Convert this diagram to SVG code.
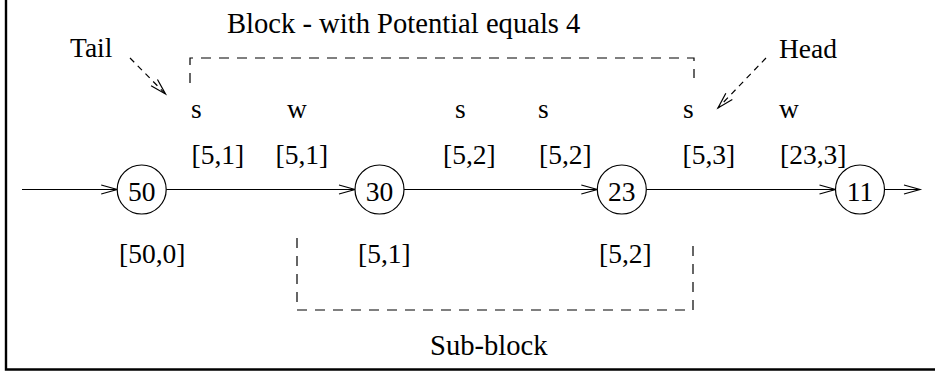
<svg xmlns="http://www.w3.org/2000/svg" width="935" height="373" viewBox="0 0 935 373">
<style>
text{font-family:"Liberation Serif","Times New Roman",serif;font-size:27.5px;fill:#000}
.big{font-size:28.6px}
.num{text-anchor:middle}
.node circle{fill:#fff;stroke:#000;stroke-width:1.2}
.edge{stroke:#000;stroke-width:1.2;fill:none}
.box{stroke:#000;stroke-width:1.2;fill:none;stroke-dasharray:10 8}
.ptr{stroke:#000;stroke-width:1.2;fill:none;stroke-dasharray:6 5}
.frame{stroke:#000;stroke-width:2.4;fill:none}
</style>
<defs>
<marker id="arr" markerWidth="20" markerHeight="12" refX="16" refY="6" orient="auto" markerUnits="userSpaceOnUse" overflow="visible">
<path d="M0,1.5 L16,6 L0,10.5" fill="none" stroke="#000" stroke-width="1.2"/>
</marker>
</defs>
<rect width="935" height="373" fill="#fff"/>
<path class="frame" d="M6,0 V369.5 H935"/>

<g id="connectors">
<line class="edge" x1="22" y1="189.5" x2="117.2" y2="189.5" marker-end="url(#arr)"/>
<line class="edge" x1="166.2" y1="189.5" x2="355" y2="189.5" marker-end="url(#arr)"/>
<line class="edge" x1="404" y1="189.5" x2="597.3" y2="189.5" marker-end="url(#arr)"/>
<line class="edge" x1="646.3" y1="189.5" x2="835.5" y2="189.5" marker-end="url(#arr)"/>
<line class="edge" x1="884.5" y1="189.5" x2="920" y2="189.5" marker-end="url(#arr)"/>
<line class="ptr" x1="130" y1="58" x2="165.5" y2="94" marker-end="url(#arr)"/>
<line class="ptr" x1="766" y1="58" x2="718" y2="108" marker-end="url(#arr)"/>
</g>

<g id="block">
<path class="box" d="M190,83 V58 H694 V78"/>
<text class="big" x="227" y="33">Block - with Potential equals 4</text>
</g>
<g id="subblock">
<path class="box" d="M297,238 V310 H693 V238"/>
<text class="big" x="430" y="355">Sub-block</text>
</g>
<g id="tail"><text x="70" y="57">Tail</text></g>
<g id="head"><text x="779" y="58">Head</text></g>

<g id="node50" class="node">
<circle cx="141.7" cy="189.5" r="24.5"/>
<text class="num" x="141.7" y="201">50</text>
</g>
<g id="node30" class="node">
<circle cx="379.5" cy="189.5" r="24.5"/>
<text class="num" x="379.5" y="201">30</text>
</g>
<g id="node23" class="node">
<circle cx="621.8" cy="189.5" r="24.5"/>
<text class="num" x="621.8" y="201">23</text>
</g>
<g id="node11" class="node">
<circle cx="860" cy="189.5" r="24.5"/>
<text class="num" x="860" y="201">11</text>
</g>

<g id="labels">
<text x="191" y="118">s</text>
<text x="287" y="118">w</text>
<text x="455" y="118">s</text>
<text x="538" y="118">s</text>
<text x="683" y="118">s</text>
<text x="779" y="118">w</text>
<text x="191.5" y="164">[5,1]</text>
<text x="275.5" y="164">[5,1]</text>
<text x="443" y="164">[5,2]</text>
<text x="539" y="164">[5,2]</text>
<text x="682.5" y="164">[5,3]</text>
<text x="780" y="164">[23,3]</text>
<text x="119" y="263">[50,0]</text>
<text x="358" y="263">[5,1]</text>
<text x="599" y="263">[5,2]</text>
</g>
</svg>
